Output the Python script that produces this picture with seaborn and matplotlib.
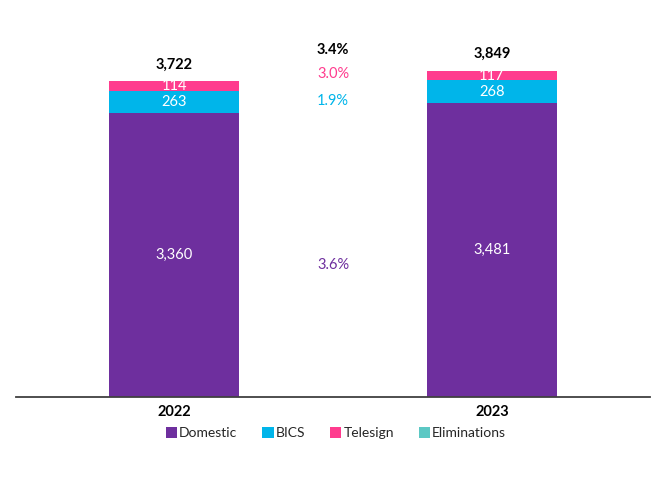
import matplotlib
matplotlib.use("Agg")
import matplotlib.pyplot as plt
from matplotlib.patches import Patch
import seaborn as sns
import pandas as pd
import numpy as np

years = ["2022", "2023"]
domestic = [3360, 3481]
bics = [263, 268]
telesign = [114, 117]
eliminations = [-15, -17]
totals = [3722, 3849]
growth_labels = ["3.6%", "1.9%", "3.0%", "3.4%"]

colors = {
    "Domestic": "#6E2F9E",
    "BICS": "#00B5EA",
    "Telesign": "#FF3C8E",
    "Eliminations": "#5CC8C4",
}

sns.set_theme(style="white")
plt.rcParams["font.family"] = ["Lato", "DejaVu Sans"]

df = pd.DataFrame({"year": years, "Domestic": domestic, "BICS": bics,
                   "Telesign": telesign, "Eliminations": eliminations})

fig = plt.figure(figsize=(6.66, 4.86), dpi=100)
ax = fig.add_axes([16 / 666, 89 / 486, 634 / 666, 376 / 486])

bw = 0.41
bottom = np.zeros(len(years))
for name in ["Domestic", "BICS", "Telesign"]:
    vals = df[name].to_numpy(dtype=float)
    sns.barplot(data=df, x="year", y=name, color=colors[name], width=bw,
                bottom=bottom, ax=ax, saturation=1, linewidth=0)
    for i, v in enumerate(vals):
        ax.text(i, bottom[i] + v / 2, f"{int(v):,}", ha="center", va="center",
                color="white", fontsize=10.5)
    bottom = bottom + vals
# eliminations (negative, below the axis, clipped)
sns.barplot(data=df, x="year", y="Eliminations", color=colors["Eliminations"],
            width=bw, ax=ax, saturation=1, linewidth=0)

for i, t in enumerate(totals):
    ax.text(i, bottom[i] + 110, f"{t:,}", ha="center", va="bottom",
            color="black", fontsize=10.5, fontweight="bold")

# growth labels between bars
gy = [1560, 3500, 3830, 4110]
gc = [colors["Domestic"], colors["BICS"], colors["Telesign"], "black"]
gw = ["normal", "normal", "normal", "bold"]
for lab, y, c, w in zip(growth_labels, gy, gc, gw):
    ax.text(0.5, y, lab, ha="center", va="center", color=c, fontsize=10.5, fontweight=w)

ax.set_xlim(-0.497, 1.497)
ax.set_ylim(0, 4453)
ax.set_xlabel("")
ax.set_ylabel("")
ax.set_yticks([])
for s in ["top", "right", "left"]:
    ax.spines[s].set_visible(False)
ax.spines["bottom"].set_color("#404040")
ax.spines["bottom"].set_linewidth(1.3)
ax.tick_params(axis="x", length=0, pad=6)
for lbl in ax.get_xticklabels():
    lbl.set_fontweight("bold")
    lbl.set_fontsize(10.5)
    lbl.set_color("black")

handles = [Patch(facecolor=colors[n], edgecolor="none", label=n)
           for n in ["Domestic", "BICS", "Telesign", "Eliminations"]]
fig.legend(handles=handles, loc="center", bbox_to_anchor=(336 / 666, 1 - 433 / 486),
           ncol=4, frameon=False, fontsize=10, handlelength=0.8, handleheight=0.8,
           handletextpad=0.15, columnspacing=1.8)

fig.savefig("out.png", dpi=100, facecolor="white")
